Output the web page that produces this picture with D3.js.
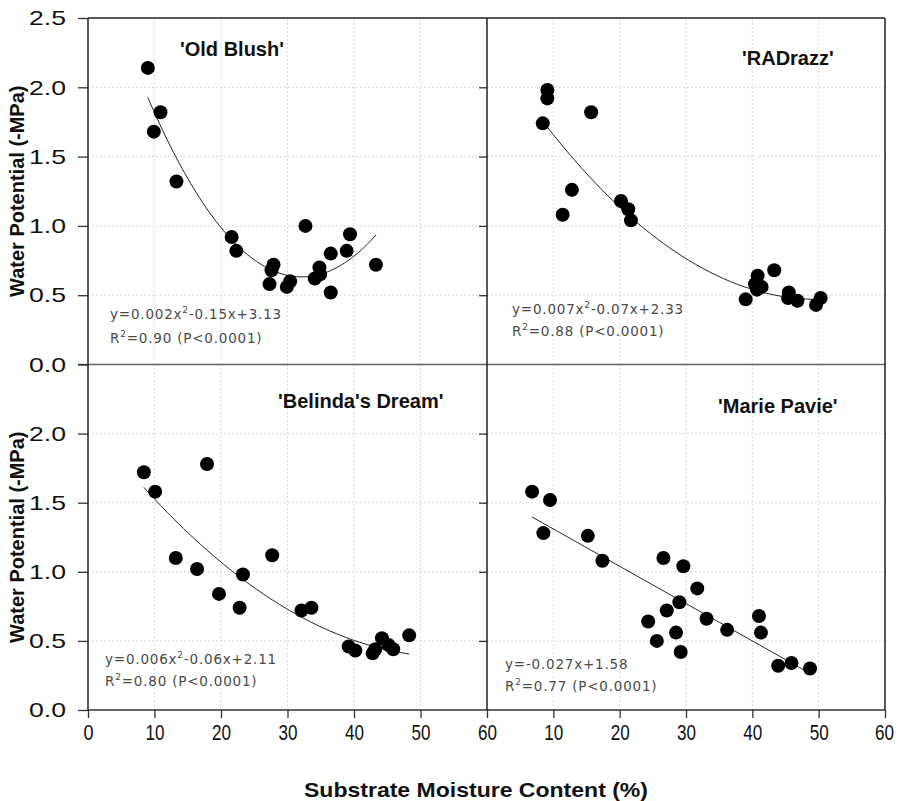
<!DOCTYPE html>
<html>
<head>
<meta charset="utf-8">
<script src="https://cdn.jsdelivr.net/npm/d3@7"></script>
<style>
  body { margin: 0; background: #fff; }
  svg { display: block; }
</style>
</head>
<body>
<svg id="chart" width="898" height="801"></svg>
<script>
// Axis ticks
const xTickValues = [0, 10, 20, 30, 40, 50, 60];
const yTickValues = [0, 0.5, 1.0, 1.5, 2.0, 2.5];

// 'Old Blush'
const oldBlushX = [9.0, 10.9, 9.9, 13.3, 21.6, 22.3, 27.9, 27.6, 27.3, 29.9, 30.4, 32.7, 34.8, 34.1, 34.9, 36.5, 36.5, 38.9, 39.4, 43.3];
const oldBlushY = [2.14, 1.82, 1.68, 1.32, 0.92, 0.82, 0.72, 0.68, 0.58, 0.56, 0.60, 1.00, 0.70, 0.62, 0.65, 0.80, 0.52, 0.82, 0.94, 0.72];

// 'RADrazz'
const radrazzX = [9.1, 9.1, 8.4, 15.7, 12.8, 11.4, 20.2, 21.3, 21.7, 43.3, 40.8, 40.4, 41.4, 40.7, 39.0, 45.5, 45.4, 46.8, 50.3, 49.6];
const radrazzY = [1.98, 1.92, 1.74, 1.82, 1.26, 1.08, 1.18, 1.12, 1.04, 0.68, 0.64, 0.58, 0.56, 0.54, 0.47, 0.52, 0.48, 0.46, 0.48, 0.43];

// 'Belinda's Dream'
const belindaX = [8.4, 10.1, 17.9, 13.2, 16.4, 19.7, 22.8, 23.3, 27.7, 32.1, 33.6, 39.2, 40.2, 42.8, 43.2, 44.2, 45.2, 45.9, 48.3];
const belindaY = [1.72, 1.58, 1.78, 1.10, 1.02, 0.84, 0.74, 0.98, 1.12, 0.72, 0.74, 0.46, 0.43, 0.41, 0.44, 0.52, 0.47, 0.44, 0.54];

// 'Marie Pavie'
const marieX = [6.8, 9.5, 8.5, 15.2, 17.4, 26.6, 29.6, 31.7, 29.0, 27.1, 24.3, 33.1, 36.2, 28.5, 25.6, 29.2, 41.0, 41.3, 43.9, 45.9, 48.7];
const marieY = [1.58, 1.52, 1.28, 1.26, 1.08, 1.10, 1.04, 0.88, 0.78, 0.72, 0.64, 0.66, 0.58, 0.56, 0.50, 0.42, 0.68, 0.56, 0.32, 0.34, 0.30];

// Fitted curves y = a*x^2 + b*x + c
const oldBlushFit = [0.00242, -0.1555, 3.13];
const radrazzFit = [0.00075, -0.0747, 2.33];
const belindaFit = [0.00058, -0.0631, 2.10];
const marieFit = [0, -0.027, 1.58];

const titles = ["'Old Blush'", "'RADrazz'", "'Belinda's Dream'", "'Marie Pavie'"];
const equations = [
  ["y=0.002x", "-0.15x+3.13"],
  ["y=0.007x", "-0.07x+2.33"],
  ["y=0.006x", "-0.06x+2.11"],
  ["y=-0.027x+1.58", null]
];
const r2Labels = ["=0.90 (P<0.0001)", "=0.88 (P<0.0001)", "=0.80 (P<0.0001)", "=0.77 (P<0.0001)"];

const svg = d3.select("#chart");
const FONT = "Liberation Sans, Arial, sans-serif";

// Panel frame geometry
const L = 88, MX = 487, R = 885, T = 18, MY = 364.5, B = 710;

const panels = [
  {xs: oldBlushX, ys: oldBlushY, fit: oldBlushFit, col: 0, row: 0, title: titles[0], eq: equations[0], r2: r2Labels[0],
   titlePos: [180, 56], eqPos: [110, 319, 343]},
  {xs: radrazzX, ys: radrazzY, fit: radrazzFit, col: 1, row: 0, title: titles[1], eq: equations[1], r2: r2Labels[1],
   titlePos: [742, 65], eqPos: [512, 314, 336]},
  {xs: belindaX, ys: belindaY, fit: belindaFit, col: 0, row: 1, title: titles[2], eq: equations[2], r2: r2Labels[2],
   titlePos: [278, 408], eqPos: [105, 664, 686]},
  {xs: marieX, ys: marieY, fit: marieFit, col: 1, row: 1, title: titles[3], eq: equations[3], r2: r2Labels[3],
   titlePos: [718, 413], eqPos: [505, 669, 691]}
];

panels.forEach(p => {
  const x = d3.scaleLinear().domain([0, 60]).range(p.col === 0 ? [L, MX] : [MX, R]);
  const y = d3.scaleLinear().domain([0, 2.5]).range(p.row === 0 ? [MY, T] : [B, MY]);
  const g = svg.append("g");

  // dotted grid
  g.append("g").selectAll("line").data(xTickValues.filter(v => v > 0 && v < 60)).join("line")
    .attr("x1", d => x(d)).attr("x2", d => x(d)).attr("y1", y(0)).attr("y2", y(2.5))
    .attr("stroke", "#cfcfcf").attr("stroke-width", 1).attr("stroke-dasharray", "1.5,2.5");
  g.append("g").selectAll("line").data(yTickValues.filter(v => v > 0 && v < 2.5)).join("line")
    .attr("x1", x(0)).attr("x2", x(60)).attr("y1", d => y(d)).attr("y2", d => y(d))
    .attr("stroke", "#cfcfcf").attr("stroke-width", 1).attr("stroke-dasharray", "1.5,2.5");

  // y axis
  if (p.col === 0) {
    const vals = p.row === 0 ? yTickValues : yTickValues.filter(v => v < 2.5);
    const ax = g.append("g").attr("transform", `translate(${L},0)`)
      .call(d3.axisLeft(y).tickValues(vals).tickFormat(d3.format(".1f")).tickSize(10).tickPadding(12));
    ax.select(".domain").remove();
    ax.selectAll("line").attr("stroke", "#333").attr("stroke-width", 1.3);
    ax.selectAll("text").attr("font-family", FONT).attr("font-size", 21).attr("fill", "#111")
      .attr("textLength", 37).attr("lengthAdjust", "spacingAndGlyphs");
  } else {
    const ax = g.append("g").attr("transform", `translate(${MX},0)`)
      .call(d3.axisLeft(y).tickValues(yTickValues.filter(v => v > 0 && v < 2.5)).tickFormat("").tickSize(8));
    ax.select(".domain").remove();
    ax.selectAll("line").attr("stroke", "#333").attr("stroke-width", 1.3);
  }

  // x axis on the lower row
  if (p.row === 1) {
    const vals = p.col === 0 ? xTickValues : xTickValues.filter(v => v > 0);
    const ax = g.append("g").attr("transform", `translate(0,${B})`)
      .call(d3.axisBottom(x).tickValues(vals).tickFormat(d3.format("d")).tickSize(8).tickPadding(6));
    ax.select(".domain").remove();
    ax.selectAll("line").attr("stroke", "#333").attr("stroke-width", 1.3);
    ax.selectAll("text").attr("font-family", FONT).attr("font-size", 22).attr("fill", "#111")
      .attr("textLength", d => d === 0 ? 10 : 19).attr("lengthAdjust", "spacingAndGlyphs")
      .attr("dx", d => (p.col === 1 && d === 60) ? -1 : 0);
  }

  // fitted curve
  const [a, b, c] = p.fit;
  const [x0, x1] = d3.extent(p.xs);
  const curvePts = d3.range(0, 81).map(i => {
    const xv = x0 + (x1 - x0) * i / 80;
    return [xv, a * xv * xv + b * xv + c];
  });
  g.append("path").datum(curvePts)
    .attr("d", d3.line().x(d => x(d[0])).y(d => y(d[1])))
    .attr("fill", "none").attr("stroke", "#222").attr("stroke-width", 1);

  // points
  g.append("g").selectAll("circle").data(d3.range(p.xs.length)).join("circle")
    .attr("cx", i => x(p.xs[i])).attr("cy", i => y(p.ys[i])).attr("r", 7).attr("fill", "#000");

  // cultivar title
  g.append("text").attr("x", p.titlePos[0]).attr("y", p.titlePos[1])
    .attr("font-family", FONT).attr("font-weight", "bold").attr("font-size", 20).attr("fill", "#111")
    .text(p.title);

  // equation and R²
  const eqFont = "DejaVu Sans, sans-serif";
  const eq = g.append("text").attr("x", p.eqPos[0]).attr("y", p.eqPos[1])
    .attr("font-family", eqFont).attr("font-size", 13.5).attr("letter-spacing", 0.8).attr("fill", "#4a4a4a");
  eq.append("tspan").text(p.eq[0]);
  if (p.eq[1]) {
    eq.append("tspan").attr("dy", -6).attr("font-size", 9).text("2");
    eq.append("tspan").attr("dy", 6).text(p.eq[1]);
  }
  const r2 = g.append("text").attr("x", p.eqPos[0]).attr("y", p.eqPos[2])
    .attr("font-family", eqFont).attr("font-size", 13.5).attr("letter-spacing", 0.8).attr("fill", "#4a4a4a");
  r2.append("tspan").text("R");
  r2.append("tspan").attr("dy", -6).attr("font-size", 9).text("2");
  r2.append("tspan").attr("dy", 6).text(p.r2);
});

// panel frame lines
const frame = svg.append("g").attr("fill", "none").attr("stroke-width", 1.5);
frame.append("line").attr("x1", L).attr("x2", R).attr("y1", T).attr("y2", T).attr("stroke", "#222");
frame.append("line").attr("x1", L).attr("x2", R).attr("y1", MY).attr("y2", MY).attr("stroke", "#666");
frame.append("line").attr("x1", L).attr("x2", R).attr("y1", B).attr("y2", B).attr("stroke", "#333");
frame.append("line").attr("x1", L).attr("x2", L).attr("y1", T).attr("y2", B).attr("stroke", "#222");
frame.append("line").attr("x1", MX).attr("x2", MX).attr("y1", T).attr("y2", B).attr("stroke", "#222");
frame.append("line").attr("x1", R).attr("x2", R).attr("y1", T).attr("y2", B).attr("stroke", "#222");
// tick at the shared 0.0 / 2.5 boundary
frame.append("line").attr("x1", L - 10).attr("x2", L).attr("y1", MY).attr("y2", MY).attr("stroke", "#333").attr("stroke-width", 1.3);

// axis titles
[ (T + MY) / 2, (MY + B) / 2 ].forEach(cy => {
  svg.append("text").attr("transform", `translate(24,${cy}) rotate(-90)`)
    .attr("text-anchor", "middle").attr("font-family", FONT).attr("font-weight", "bold")
    .attr("font-size", 20).attr("fill", "#111").text("Water Potential (-MPa)");
});
svg.append("text").attr("x", 476).attr("y", 797).attr("text-anchor", "middle")
  .attr("font-family", FONT).attr("font-weight", "bold").attr("font-size", 21).attr("fill", "#111")
  .attr("textLength", 344).attr("lengthAdjust", "spacingAndGlyphs")
  .text("Substrate Moisture Content (%)");
</script>
</body>
</html>
